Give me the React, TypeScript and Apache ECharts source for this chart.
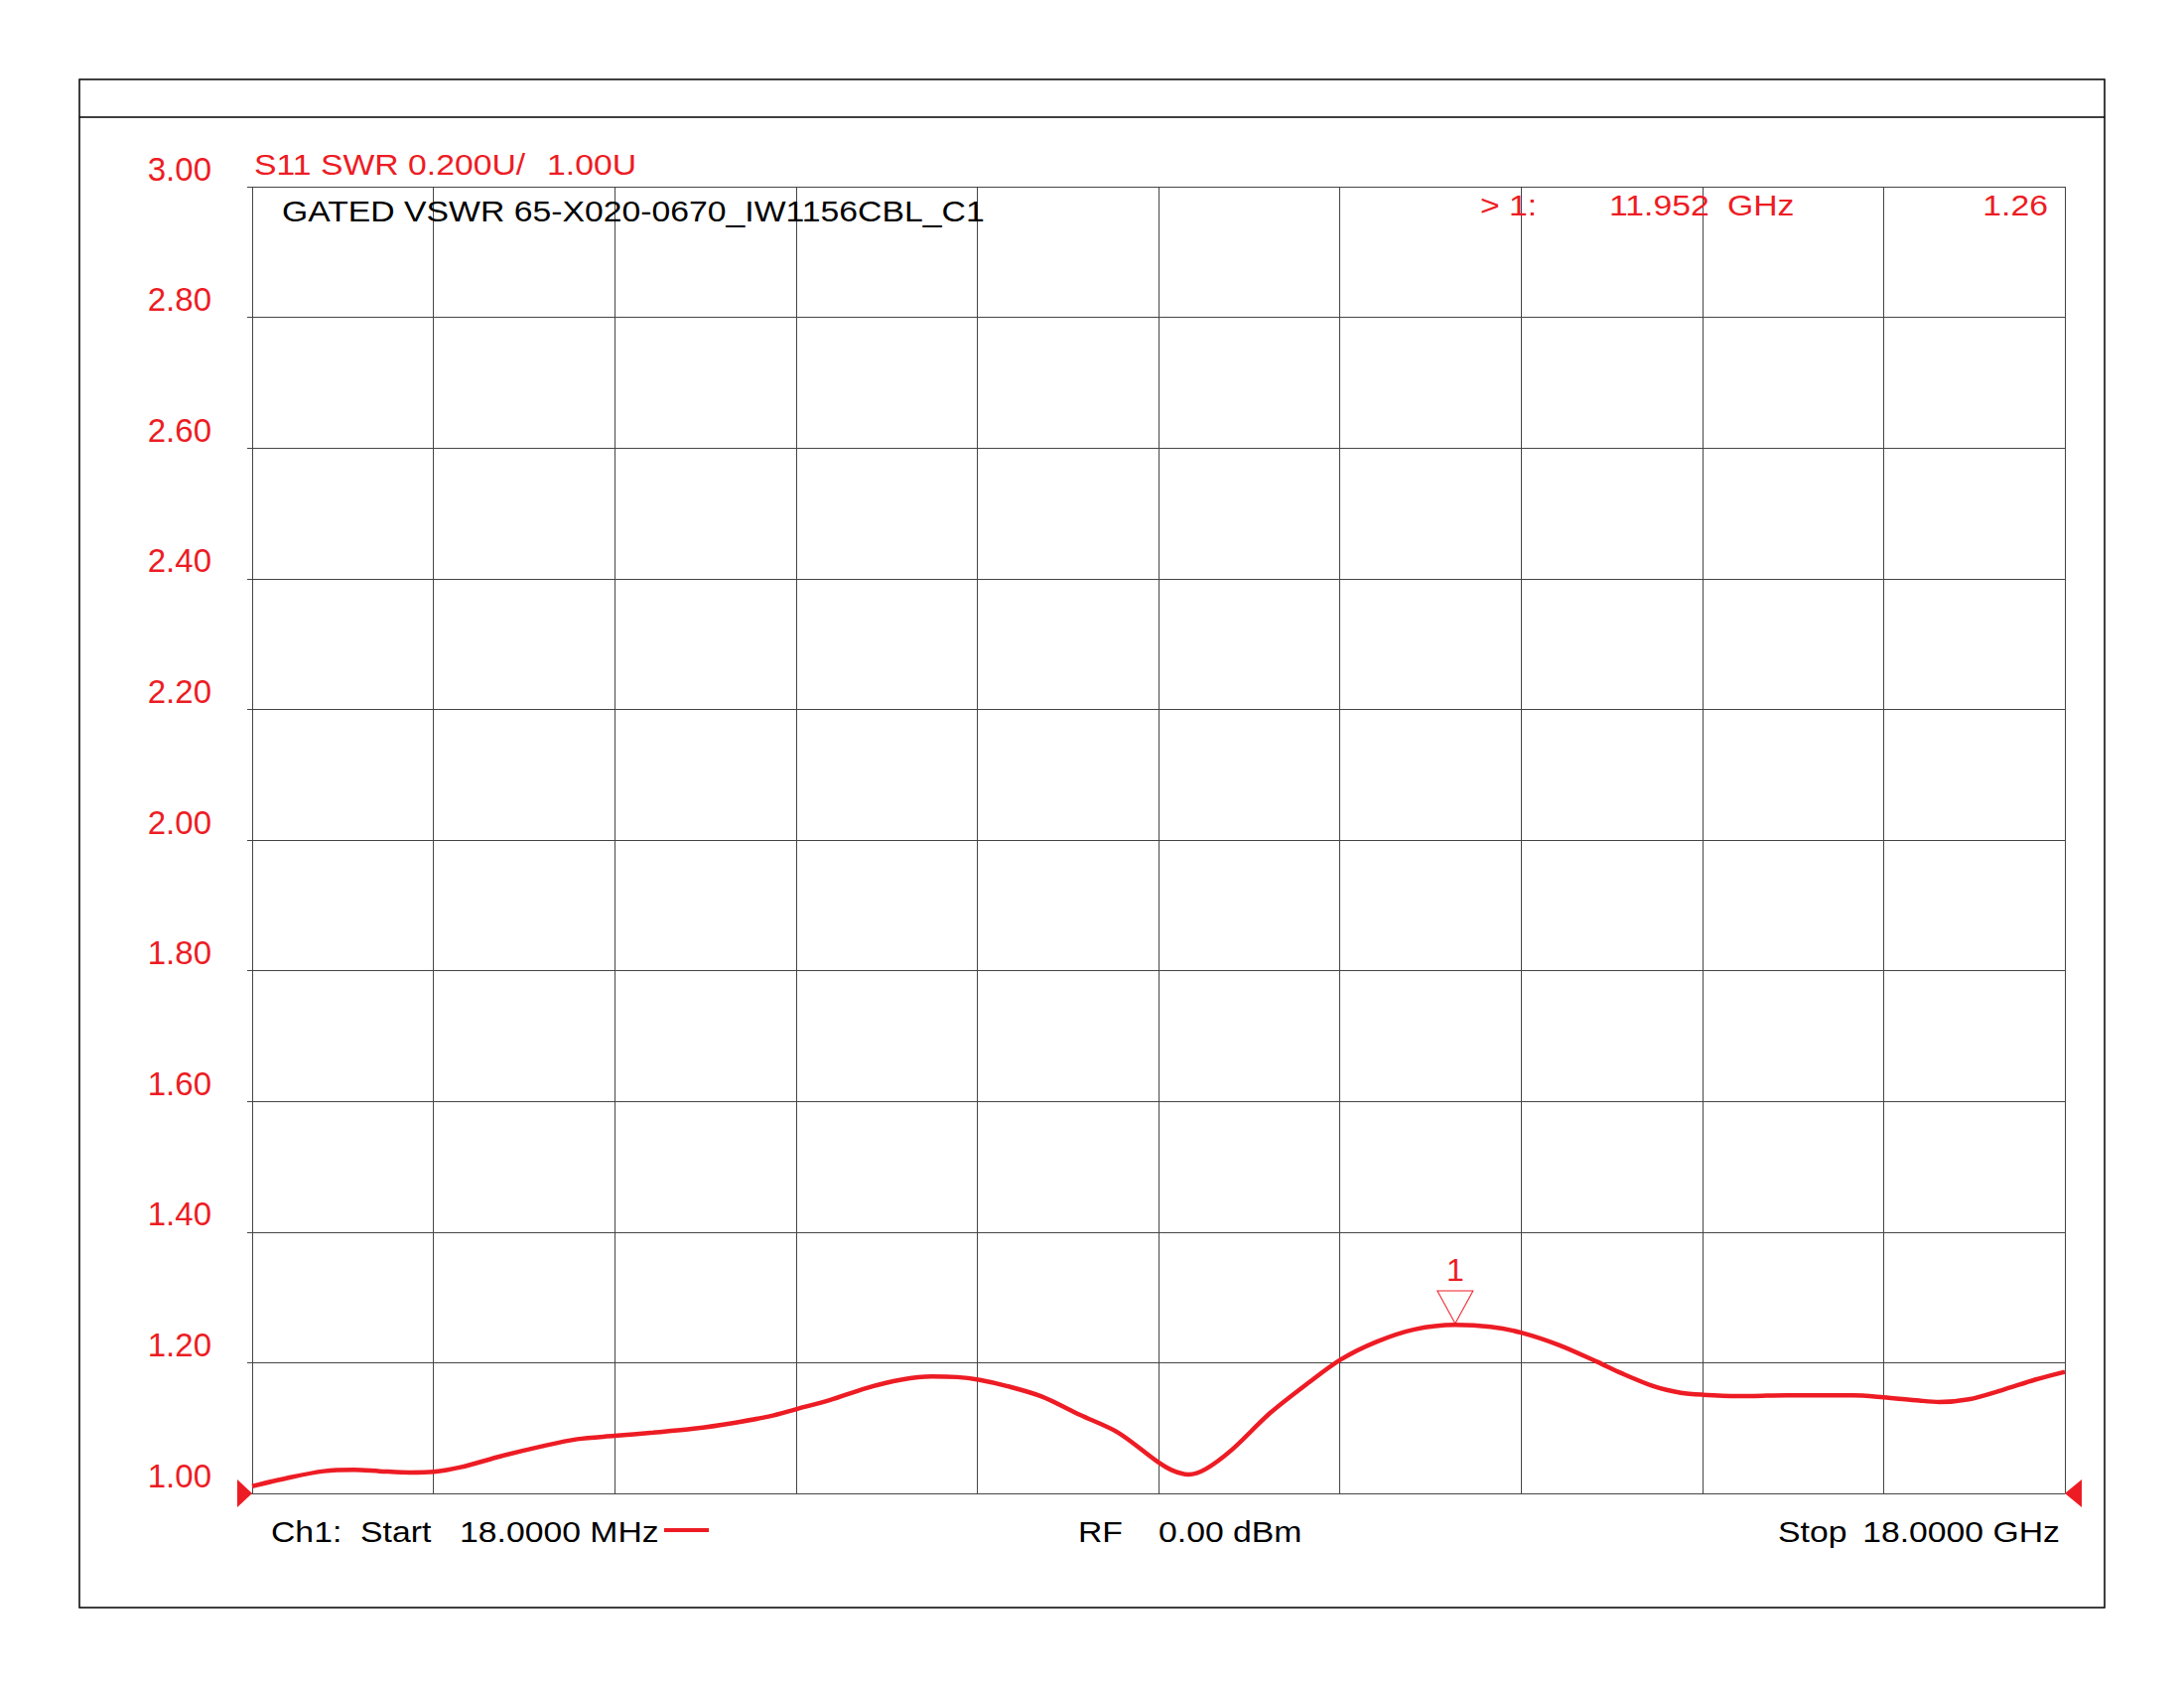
import React, { useEffect, useRef } from 'react';
import * as echarts from 'echarts';

// ---- data ----
const FREQ_GHZ = [
  0.018, 0.378, 0.729, 1.031, 1.283, 1.584, 1.819, 2.086, 2.488, 2.89, 3.242, 3.609,
  3.996, 4.398, 4.8, 5.151, 5.418, 5.754, 6.106, 6.458, 6.76, 7.011, 7.222, 7.513,
  7.855, 8.232, 8.609, 8.986, 9.136, 9.306, 9.475, 9.739, 10.116, 10.494, 10.818,
  11.171, 11.548, 11.952, 12.302, 12.607, 12.981, 13.358, 13.6, 13.929, 14.191,
  14.408, 14.75, 15.242, 15.899, 16.2, 16.555, 16.752, 17.047, 17.376, 17.704, 18.0,
];
const SWR = [
  1.011, 1.024, 1.034, 1.036, 1.034, 1.032, 1.033, 1.04, 1.057, 1.072, 1.083, 1.088,
  1.093, 1.099, 1.108, 1.118, 1.129, 1.143, 1.161, 1.174, 1.179, 1.178, 1.174, 1.164,
  1.148, 1.12, 1.093, 1.05, 1.036, 1.029, 1.037, 1.067, 1.123, 1.169, 1.205,
  1.232, 1.251, 1.258, 1.255, 1.246, 1.227, 1.2015, 1.184, 1.1635, 1.154,
  1.151, 1.149, 1.15, 1.15, 1.147, 1.142, 1.14, 1.144, 1.158, 1.174, 1.186,
];

const X_MIN = 0.018;
const X_MAX = 18;
const X_DIVISIONS = 10;
const Y_MIN = 1;
const Y_MAX = 3;
const Y_STEP = 0.2;

const MARKER_NAME = '1';
const MARKER_FREQ = 11.952;
const MARKER_VALUE = 1.26;

const TRACE_LABEL = ['S11 SWR 0.200U/', '1.00U'];
const TITLE = 'GATED VSWR 65-X020-0670_IW1156CBL_C1';
const MARKER_READOUT = ['> 1:', MARKER_FREQ.toFixed(3), 'GHz', MARKER_VALUE.toFixed(2)];
const FOOTER = ['Ch1:', 'Start', '18.0000 MHz', 'RF', '0.00 dBm', 'Stop', '18.0000 GHz'];

const RED = '#ed1c24';
const GRID = '#454545';
const FONT = '"Liberation Sans", Arial, Helvetica, sans-serif';
const SX = 1.125;

function txt(text: string, x: number, y: number, color: string, align = 'left', size = 30) {
  return {
    type: 'text',
    x,
    y,
    scaleX: SX,
    silent: true,
    z: 10,
    style: {
      text,
      fill: color,
      fontSize: size,
      fontFamily: FONT,
      align,
      verticalAlign: 'middle',
      textAlign: align,
      textVerticalAlign: 'middle',
    },
  };
}

export default function App() {
  const ref = useRef<HTMLDivElement>(null);

  useEffect(() => {
    if (!ref.current) return;
    const chart = echarts.init(ref.current, undefined, { renderer: 'svg' });
    const data = FREQ_GHZ.map((f, i) => [f, SWR[i]]);

    chart.setOption({
      animation: false,
      backgroundColor: '#ffffff',
      grid: { left: 254, right: 120, top: 188, bottom: 196, containLabel: false },
      xAxis: [
        { type: 'value', min: X_MIN, max: X_MAX, show: false },
        {
          type: 'value',
          min: 0,
          max: X_DIVISIONS,
          interval: 1,
          position: 'bottom',
          axisLine: { show: true, onZero: false, lineStyle: { color: GRID, width: 1 } },
          axisTick: { show: false },
          axisLabel: { show: false },
          splitLine: { show: true, lineStyle: { color: GRID, width: 1 } },
        },
      ],
      yAxis: {
        type: 'value',
        min: Y_MIN,
        max: Y_MAX,
        interval: Y_STEP,
        axisLine: { show: false },
        axisTick: { show: true, length: 5, lineStyle: { color: GRID, width: 1 } },
        axisLabel: {
          color: RED,
          fontSize: 33,
          fontFamily: FONT,
          margin: 41,
          verticalAlign: 'bottom',
          lineHeight: 36,
          formatter: (v: number) => v.toFixed(2),
        },
        splitLine: { show: true, lineStyle: { color: GRID, width: 1 } },
      },
      series: [
        {
          type: 'line',
          xAxisIndex: 0,
          yAxisIndex: 0,
          data,
          symbol: 'none',
          showSymbol: false,
          smooth: 0.3,
          lineStyle: { color: RED, width: 4.5 },
          z: 5,
          silent: true,
          markPoint: {
            silent: true,
            symbol: 'path://M0,0L36,0L18,33Z',
            symbolSize: [36, 33],
            symbolOffset: [0, '-50%'],
            itemStyle: { color: 'rgba(0,0,0,0)', borderColor: RED, borderWidth: 1 },
            label: {
              show: true,
              position: 'top',
              distance: 4,
              formatter: MARKER_NAME,
              color: RED,
              fontSize: 32,
              fontFamily: FONT,
            },
            data: [{ coord: [MARKER_FREQ, MARKER_VALUE] }],
          },
        },
      ],
    });

    const p0 = chart.convertToPixel({ xAxisIndex: 0, yAxisIndex: 0 }, [X_MIN, Y_MIN]) as number[];
    const p1 = chart.convertToPixel({ xAxisIndex: 0, yAxisIndex: 0 }, [X_MAX, Y_MIN]) as number[];

    chart.setOption({
      graphic: [
        {
          type: 'rect',
          silent: true,
          shape: { x: 80, y: 80, width: 2040, height: 1539 },
          style: { fill: 'none', stroke: '#000', lineWidth: 1.5 },
        },
        {
          type: 'line',
          silent: true,
          shape: { x1: 80, y1: 118, x2: 2120, y2: 118 },
          style: { stroke: '#000', lineWidth: 1.5 },
        },
        txt(TRACE_LABEL[0], 256, 166, RED),
        txt(TRACE_LABEL[1], 551, 166, RED),
        txt(TITLE, 284, 213, '#000'),
        txt(MARKER_READOUT[0], 1491, 207, RED),
        txt(MARKER_READOUT[1], 1621, 207, RED),
        txt(MARKER_READOUT[2], 1740, 207, RED),
        txt(MARKER_READOUT[3], 2063, 207, RED, 'right'),
        txt(FOOTER[0], 273, 1543, '#000'),
        txt(FOOTER[1], 363, 1543, '#000'),
        txt(FOOTER[2], 463, 1543, '#000'),
        {
          type: 'line',
          silent: true,
          shape: { x1: 669, y1: 1541, x2: 714, y2: 1541 },
          style: { stroke: RED, lineWidth: 4 },
        },
        txt(FOOTER[3], 1086, 1543, '#000'),
        txt(FOOTER[4], 1167, 1543, '#000'),
        txt(FOOTER[5], 1791, 1543, '#000'),
        txt(FOOTER[6], 2075, 1543, '#000', 'right'),
        {
          type: 'polygon',
          silent: true,
          z: 11,
          shape: { points: [[p0[0] - 15, p0[1] - 14], [p0[0], p0[1]], [p0[0] - 15, p0[1] + 14]] },
          style: { fill: RED },
        },
        {
          type: 'polygon',
          silent: true,
          z: 11,
          shape: { points: [[p1[0] + 17, p1[1] - 14], [p1[0], p1[1]], [p1[0] + 17, p1[1] + 14]] },
          style: { fill: RED },
        },
      ],
    });

    return () => chart.dispose();
  }, []);

  return (
    <div
      ref={ref}
      style={{ position: 'absolute', left: 0, top: 0, width: 2200, height: 1700, background: '#fff' }}
    />
  );
}
